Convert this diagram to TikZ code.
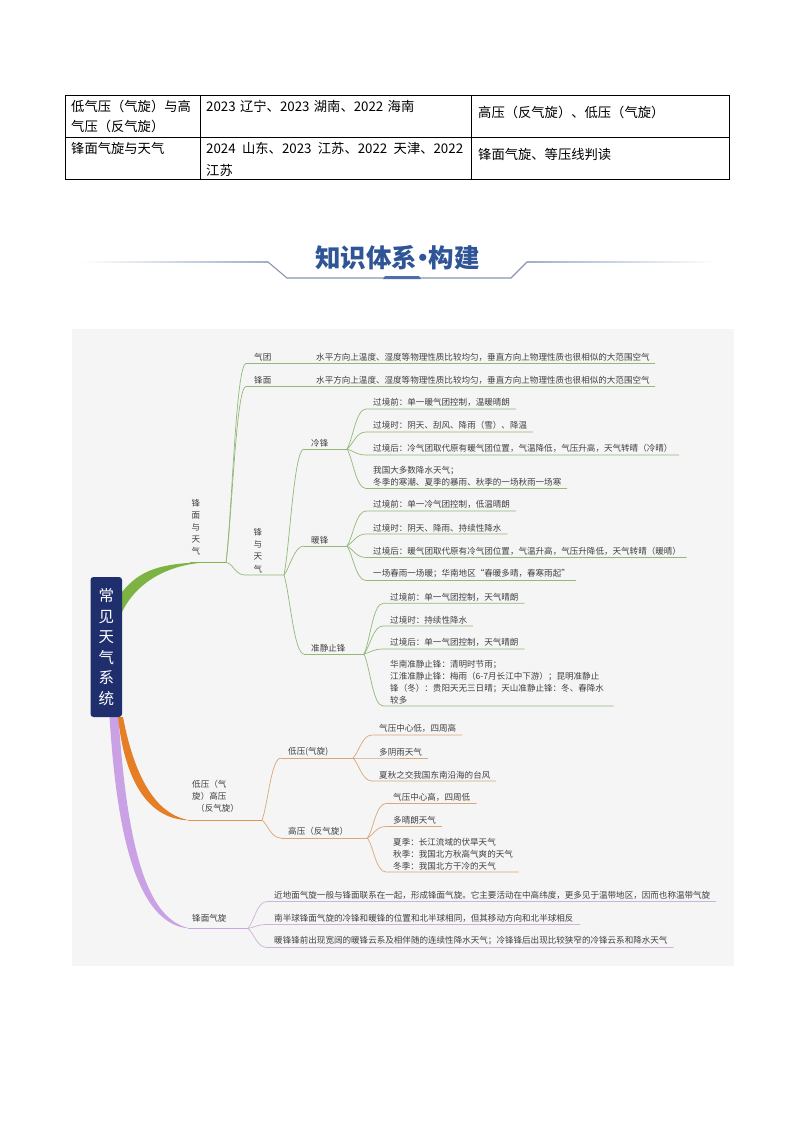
\documentclass[tikz,border=0pt]{standalone}
\usepackage{fontspec}
\setmainfont{Noto Sans CJK SC}
\usetikzlibrary{calc}
\definecolor{gbr}{HTML}{93B878}
\definecolor{obr}{HTML}{D8A878}
\definecolor{pbr}{HTML}{CDB2DC}
\definecolor{gfat}{HTML}{7CB342}
\definecolor{ofat}{HTML}{E57E25}
\definecolor{pfat}{HTML}{CBA1E5}
\definecolor{rootc}{HTML}{1F2E6C}
\definecolor{titlec}{HTML}{2F5597}
\definecolor{deco}{HTML}{9FB0CC}
\definecolor{txt}{HTML}{404040}
\tikzset{
 lbl/.style={inner sep=0pt,text=txt,align=left,font=\fontsize{8.55}{12}\selectfont},
 vert/.style={lbl,align=center},
 tbl/.style={inner sep=0pt,anchor=west,text=black,font=\fontsize{13.3}{15}\selectfont},
 tline/.style={black,line width=0.8pt},
 conn/.style={line width=0.7pt}
}
\newcommand{\jlink}[3]{\draw[conn,#1] (#2) .. controls ($(#2)!0.25!(#2|-#3)+(6,0)$) and ($(#3)+(-10,0)$) .. (#3);}
\newcommand{\leaf}[8]{%
 \coordinate (#2s) at (#4,#5);
 \coordinate (#2e) at (#6,#5);
 \node[lbl,anchor=south west] (#2) at (#7,#5-2) {#8};
 \draw[conn,#1] (#3) .. controls ($(#3)!0.25!(#3|-#2s)+(6,0)$) and ($(#2s)+(-10,0)$) .. (#2s) -- (#2e);
}
\newcommand{\gpa}{\hspace*{1.4pt}}
\newcommand{\gpb}{\hspace*{3.4pt}}
\begin{document}
\begin{tikzpicture}[x=1pt,y=-1pt]
\useasboundingbox (0,0) rectangle (794,1123);
\fill[white] (0,0) rectangle (794,1123);
% table
\coordinate (tl) at (65,95); \coordinate (tr) at (729,95);
\coordinate (ml) at (65,137.5); \coordinate (mr) at (729,137.5);
\coordinate (bl) at (65,179.5); \coordinate (br) at (729,179.5);
\draw[tline] (tl) rectangle (br);
\draw[tline] (ml) -- (mr);
\draw[tline] (200,95) -- (200,179.5);
\draw[tline] (471,95) -- (471,179.5);
\node[tbl] (t11) at (71,106) {低气压（气旋）与高};
\node[tbl] (t12) at (71,126.5) {气压（反气旋）};
\node[tbl] (t13) at (206,106) {2023\gpa{} 辽宁、2023\gpa{} 湖南、2022\gpa{} 海南};
\node[tbl] (t14) at (478,112) {高压（反气旋）、低压（气旋）};
\node[tbl] (t21) at (71,148) {锋面气旋与天气};
\node[tbl] (t22) at (206,148) {2024\gpb{} 山东、2023\gpb{} 江苏、2022\gpb{} 天津、2022};
\node[tbl] (t23) at (206,170) {江苏};
\node[tbl] (t24) at (478,154) {锋面气旋、等压线判读};
% title
\fill[left color=white,right color=deco] (80,261.3) rectangle (268,262.7);
\fill[left color=deco,right color=white] (527,261.3) rectangle (718,262.7);
\coordinate (d1) at (268,262); \coordinate (d2) at (287,278);
\coordinate (d3) at (511,278); \coordinate (d4) at (527,262);
\draw[deco!85!black,line width=1.1pt] (d1) -- (d2) -- (d3) -- (d4);
\fill[titlec!85] (383,279) -- (385,276) -- (419,276) -- (421,279) -- cycle;
\node[inner sep=0pt,text=titlec,font=\fontsize{25.5}{28}\selectfont\bfseries] (title) at (397.5,258) {知识体系\hspace*{-7pt}·\hspace*{-7pt}构建};
% mind map background
\fill[black!4] (72,329) rectangle (734,966);
% thick branches
\fill[pfat] (109.5,717) .. controls (115,800) and (128,925) .. (190,928.5) .. controls (150,920) and (128,860) .. (118.5,717) -- cycle;
\fill[ofat] (118,717) .. controls (124,775) and (145,820) .. (190,820.3) .. controls (155,815) and (134,775) .. (123,717) -- cycle;
\fill[gfat] (122,592) .. controls (140,570) and (160,562.5) .. (213,562) .. controls (165,563) and (135,585) .. (122,612) -- cycle;
% junctions
\coordinate (g0a) at (190,562.5); \coordinate (g0) at (226,562.5);
\coordinate (o0a) at (188,820.2); \coordinate (o0) at (262,820.2);
\coordinate (p0a) at (188,928.5); \coordinate (p0) at (248,928.5);
\draw[conn,gfat!80!gbr] (g0a) -- (g0);
\draw[conn,ofat!50!obr] (o0a) -- (o0);
\draw[conn,pfat!70!pbr] (p0a) -- (p0);
% root
\node[draw=none,fill=rootc,rounded corners=3pt,minimum width=31.5pt,minimum height=140pt,inner sep=0pt,
 text=white,align=center,font=\fontsize{15.5}{20.6}\selectfont] (root) at (106.25,647) {常\\见\\天\\气\\系\\统};
% green level 1
\node[vert,font=\fontsize{8.55}{12}\selectfont] (n1) at (196,527) {锋\\面\\与\\天\\气};
\leaf{gbr}{a1}{g0}{246}{363.5}{655}{316}{水平方向上温度、湿度等物理性质比较均匀，垂直方向上物理性质也很相似的大范围空气}
\leaf{gbr}{a2}{g0}{246}{386.5}{655}{316}{水平方向上温度、湿度等物理性质比较均匀，垂直方向上物理性质也很相似的大范围空气}
\node[lbl,anchor=south west] (a1t) at (254,361.5) {气团};
\node[lbl,anchor=south west] (a2t) at (254,384.5) {锋面};
\coordinate (fs) at (245,575); \coordinate (fj) at (284,575);
\draw[conn,gbr] (g0) .. controls (233,563) and (235,575) .. (fs) -- (fj);
\node[vert,font=\fontsize{8.55}{12.3}\selectfont] (n2) at (258,550.5) {锋\\与\\天\\气};
% fronts
\coordinate (cs) at (304,449); \coordinate (cj) at (347,449);
\coordinate (ws) at (304,546); \coordinate (wj) at (347,546);
\coordinate (qs) at (304,654); \coordinate (qj) at (364,654);
\jlink{gbr}{fj}{cs}\jlink{gbr}{fj}{ws}\jlink{gbr}{fj}{qs}
\draw[conn,gbr] (cs) -- (cj); \draw[conn,gbr] (ws) -- (wj); \draw[conn,gbr] (qs) -- (qj);
\node[lbl,anchor=south west] (cold) at (311,447) {冷锋};
\node[lbl,anchor=south west] (warm) at (311,544) {暖锋};
\node[lbl,anchor=south west] (stat) at (311,652) {准静止锋};
\leaf{gbr}{c1}{cj}{366}{409}{516}{373}{过境前：单一暖气团控制，温暖晴朗}
\leaf{gbr}{c2}{cj}{366}{432}{533}{373}{过境时：阴天、刮风、降雨（雪）、降温}
\leaf{gbr}{c3}{cj}{366}{455}{679}{373}{过境后：冷气团取代原有暖气团位置，气温降低，气压升高，天气转晴（冷晴）}
\leaf{gbr}{c4}{cj}{366}{488.5}{567}{373}{我国大多数降水天气；\\冬季的寒潮、夏季的暴雨、秋季的一场秋雨一场寒}
\leaf{gbr}{w1}{wj}{366}{511}{516}{373}{过境前：单一冷气团控制，低温晴朗}
\leaf{gbr}{w2}{wj}{366}{534}{507.5}{373}{过境时：阴天、降雨、持续性降水}
\leaf{gbr}{w3}{wj}{366}{557.5}{686.5}{373}{过境后：暖气团取代原有冷气团位置，气温升高，气压升降低，天气转晴（暖晴）}
\leaf{gbr}{w4}{wj}{366}{580.5}{576}{373}{一场春雨一场暖；华南地区“春暖多晴，春寒雨起”}
\leaf{gbr}{q1}{qj}{383}{603.3}{524.5}{390}{过境前：单一气团控制，天气晴朗}
\leaf{gbr}{q2}{qj}{383}{626}{473}{390}{过境时：持续性降水}
\leaf{gbr}{q3}{qj}{383}{649}{524.5}{390}{过境后：单一气团控制，天气晴朗}
\leaf{gbr}{q4}{qj}{383}{706}{613.5}{390}{华南准静止锋：清明时节雨；\\江淮准静止锋：梅雨（6-7月长江中下游）；昆明准静止\\锋（冬）：贵阳天无三日晴；天山准静止锋：冬、春降水\\较多}
% orange
\node[lbl,anchor=north west] (n3) at (192,780) {低压（气\\旋）高压\\\hspace*{4pt}（反气旋）};
\coordinate (ls) at (281,758); \coordinate (lj) at (353,758);
\coordinate (hs) at (281,838); \coordinate (hj) at (367.5,838);
\jlink{obr}{o0}{ls}\jlink{obr}{o0}{hs}
\draw[conn,obr] (ls) -- (lj); \draw[conn,obr] (hs) -- (hj);
\node[lbl,anchor=south west] (low) at (288,756) {低压(气旋)};
\node[lbl,anchor=south west] (high) at (288,836) {高压（反气旋）};
\leaf{obr}{l1}{lj}{372}{735}{462}{379}{气压中心低，四周高}
\leaf{obr}{l2}{lj}{372}{758}{428}{379}{多阴雨天气}
\leaf{obr}{l3}{lj}{372}{781}{496}{379}{夏秋之交我国东南沿海的台风}
\leaf{obr}{h1}{hj}{386}{803.5}{476.5}{393}{气压中心高，四周低}
\leaf{obr}{h2}{hj}{386}{826.5}{442}{393}{多晴朗天气}
\leaf{obr}{h3}{hj}{386}{872}{518.5}{393}{夏季：长江流域的伏旱天气\\秋季：我国北方秋高气爽的天气\\冬季：我国北方干冷的天气}
% purple
\node[lbl,anchor=south west] (n4) at (192,922) {锋面气旋};
\leaf{pbr}{p1}{p0}{267}{901.5}{716}{274}{近地面气旋一般与锋面联系在一起，形成锋面气旋。它主要活动在中高纬度，更多见于温带地区，因而也称温带气旋}
\leaf{pbr}{p2}{p0}{267}{924.5}{580}{274}{南半球锋面气旋的冷锋和暖锋的位置和北半球相同，但其移动方向和北半球相反}
\leaf{pbr}{p3}{p0}{267}{947.5}{673.5}{274}{暖锋锋前出现宽阔的暖锋云系及相伴随的连续性降水天气；冷锋锋后出现比较狭窄的冷锋云系和降水天气}
\end{tikzpicture}
\end{document}
